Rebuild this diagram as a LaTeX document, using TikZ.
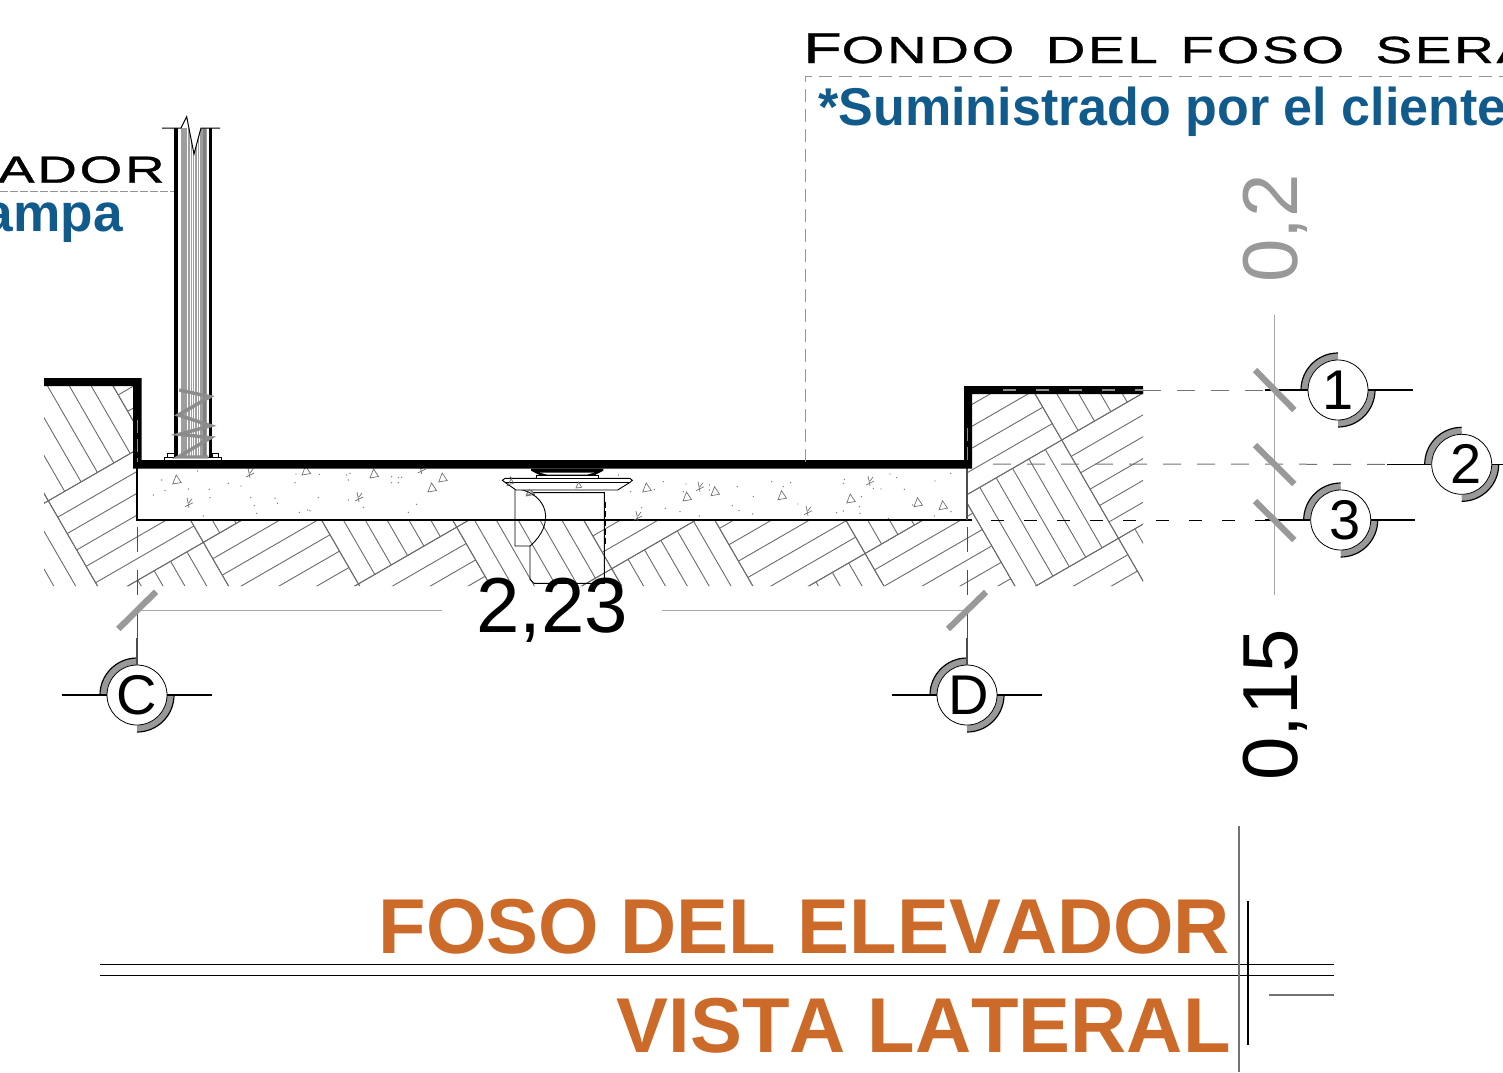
\documentclass[tikz,border=0pt]{standalone}
\usepackage{fontspec}
\setmainfont[Kerning=Off]{Liberation Sans}
\newfontfamily\techfont[LetterSpace=5,WordSpace=1.75,FakeBold=0.8]{Liberation Sans}
\definecolor{noteblue}{HTML}{115A8C}
\definecolor{titleorange}{HTML}{CC6A2A}
\definecolor{tickgray}{HTML}{999999}
\tikzset{
  hatchline/.style={draw=black!58,line width=.45pt},
  thinblack/.style={draw=black,line width=.65pt},
  hidden/.style={draw=black!42,line width=.5pt,dash pattern=on 6.5pt off 3.5pt},
  dashgray/.style={draw=black!55,line width=.5pt,dash pattern=on 9pt off 8pt},
  dashblack/.style={draw=black,line width=.5pt,dash pattern=on 6.5pt off 10pt},
  dimline/.style={draw=black!35,line width=.6pt},
  slash/.style={draw=tickgray,line width=3.1pt},
  bubble/.style={circle,draw=black,line width=.4pt,fill=white,minimum size=30pt,inner sep=0pt,font=\fontsize{28}{28}\selectfont},
  speck/.style={draw=black!55,line width=.35pt},
  drainline/.style={draw=black,line width=.45pt},
  dimtext/.style={font=\fontsize{39}{39}\selectfont,inner sep=0pt},
  titletext/.style={text=titleorange,font=\fontsize{38.9}{39}\selectfont\bfseries,inner sep=0pt},
  notetext/.style={text=noteblue,font=\fontsize{26.6}{27}\selectfont\bfseries,inner sep=0pt},
  techtext/.style={font=\fontsize{18.9}{19}\techfont,inner sep=0pt},
}
\newcommand{\bubbleat}[4]{%
  \draw[draw=tickgray,line width=3.2pt] (#2-33.5,#3) arc[start angle=180,end angle=270,radius=33.5];
  \draw[draw=tickgray,line width=3.2pt] (#2+33.5,#3) arc[start angle=0,end angle=90,radius=33.5];
  \draw[draw=black,line width=.6pt] (#2-37,#3) arc[start angle=180,end angle=270,radius=37];
  \draw[draw=black,line width=.6pt] (#2+37,#3) arc[start angle=0,end angle=90,radius=37];
  \node[bubble] (#1) at (#2,#3) {#4};
}
\begin{document}
\begin{tikzpicture}[x=0.5pt,y=-0.5pt]
\useasboundingbox (0,0) rectangle (1503,1072);
% ---- parquet hatch
\begin{scope}
\clip (44,385) -- (137,385) -- (137,520) -- (967,520) -- (967,390) -- (1143,390) -- (1143,586) -- (44,586) -- cycle;
\foreach \ii in {-9,...,0}{
 \foreach \jj in {-5,...,1}{
  \pgfmathsetmacro\cx{1061.7+\ii*98.3+\jj*56.75}
  \pgfmathsetmacro\cy{440-\ii*56.75+\jj*98.3}
  \pgfmathtruncatemacro\parity{mod(abs(\ii+\jj),2)}
  \draw[hatchline] (\cx,\cy) -- ++(98.3,-56.75) -- ++(56.75,98.3) -- ++(-98.3,56.75) -- cycle;
  \foreach \k in {1,...,5}{
   \ifnum\parity=0
    \draw[hatchline] ({\cx+\k*56.75/6},{\cy+\k*98.3/6}) -- ++(98.3,-56.75);
   \else
    \draw[hatchline] ({\cx+\k*98.3/6},{\cy-\k*56.75/6}) -- ++(56.75,98.3);
   \fi
  }
 }
}
\end{scope}
% ---- slab outline
\draw[thinblack] (137,468) -- (137,520) -- (972,520);
\draw[thinblack,draw=black!70] (967,468) -- (967,520);
% ---- aggregate
\foreach \a/\b in {176.7/480,306/471,374/474,432/488,442.7/478,511/481.7,578/485,646.7/488,530/492,687/497,715/491.7,782/495.7,850.7/499,918/502.7,943/505.7}{
  \draw[speck] (\a-4,\b+4) -- (\a+4.5,\b+2.5) -- (\a-0.5,\b-5) -- cycle;
}
\foreach \a/\b in {250/473,189/502.7,359/497,421.7/469,700/486.7,638/516,808/510.7,870/481}{
  \draw[speck] (\a-2,\b-5) -- (\a,\b+5) (\a-4,\b+4) -- (\a+4,\b) (\a,\b) -- (\a+3,\b-4);
}
\foreach \a/\b in {365/60,340/105,375/92,445/87,473/33,508/88,510/113,565/70,603/78,632/113,643/137,650/160,705/115,712/130,778/157,803/150,810/152,835/113,765/68,768/42,838/43,920/45,930/40,925/60,925/120,970/142,490/168,1055/50,1075/53,1085/52,1055/68,1075/68,1105/157,1130/133}{
  \fill[black!55] ({40+\a/3},{460+\b/3}) circle[radius=.7];
}
\foreach \a/\b in {55/60,190/80,163/103,92/110,258/87,250/110,328/90,328/105,412/95,515/80,572/83,550/95,460/125,397/152,417/167,458/177,240/170,298/183,196/160,125/158,594/147,710/173,730/168,784/125,778/155,780/175,733/73,730/85,870/57,890/68,1005/78,1052/55,820/100,843/102,913/103,938/150,1003/183,1053/170,865/190}{
  \fill[black!55] ({600+\a/3},{455+\b/3}) circle[radius=.7];
}
% ---- drain
\begin{scope}[shift={(440,450)},xscale=1/3,yscale=1/3]
\draw[drainline] (225,120) -- (225,288) -- (270,288) -- (270,388) -- (282,400) -- (493,400) -- (493,128) -- (280,128);
\draw[drainline] (225,115) .. controls (330,130) and (345,225) .. (270,288);
\draw[drainline,line width=.9pt,dash pattern=on 3pt off 1.5pt] (496,155) -- (496,282);
\draw[drainline,fill=white] (195,85) -- (570,85) -- (577,91) -- (570,97) -- (533,120) -- (228,120) -- (195,97) -- (187,91) -- cycle;
\draw[drainline] (195,97) -- (570,97);
\draw[drainline,fill=white] (288,85) -- (288,77) -- (475,77) -- (475,85);
\fill[black] (273,56) -- (490,56) -- (490,62) -- (465,75) -- (298,75) -- (273,62) -- cycle;
\fill[white] (300,68) -- (462,68) -- (440,74) -- (322,74) -- cycle;
\draw[speck] (204,104) -- (220,100) -- (214,86) -- cycle;
\draw[speck] (408,114) -- (425,112) -- (416,96) -- cycle;
\draw[speck] (262,136) -- (278,130) -- (268,118) -- cycle;
\end{scope}
% ---- pit walls (thick section lines)
\fill[black] (44,378) -- (141.5,378) -- (141.5,460) -- (964,460) -- (964,386) -- (1143,386) -- (1143,394) -- (972,394) -- (972,468.5) -- (133,468.5) -- (133,386) -- (44,386) -- cycle;
\coordinate (wallR) at (1143,390);
\coordinate (dashA) at (993,464);
\coordinate (dashB) at (991,520);
\coordinate (topdash) at (1003,390);
\draw[draw=black!45,line width=.6pt,dash pattern=on 6.5pt off 10pt] (topdash) -- (wallR);
\draw[draw=black!45,line width=.5pt,dash pattern=on 6.5pt off 3pt] (137,420) -- (137,462);
\draw[draw=black!45,line width=.5pt,dash pattern=on 6.5pt off 3pt] (967,428) -- (967,462);
% ---- guide rail
\fill[black!38] (181,128) rectangle (207,457);
\foreach \xx in {187.2,190,192.5,194.7,197,199.5}{
  \draw[draw=white,line width=.3pt] (\xx,128) -- (\xx,457);
}
\fill[black!50] (203,128) rectangle (206,457);
\fill[black] (174,128) rectangle (177.6,457);
\fill[black] (209,128) rectangle (212,457);
\fill[white] (178,110) -- (206,110) -- (206,128) -- (201,128) -- (194,154) -- (186.7,116.7) -- (181,128) -- (178,128) -- cycle;
\draw[draw=black,line width=.5pt] (162,128) -- (181,128) -- (186.7,116.7) -- (194,154) -- (201,128) -- (220,128);
\draw[draw=black,line width=.4pt,fill=white] (164.7,457) rectangle (221.7,460.5);
\draw[draw=black,line width=.4pt,fill=white] (167.7,453) rectangle (174,457);
\draw[draw=black,line width=.4pt,fill=white] (212.3,453) rectangle (218.3,457);
\draw[draw=black!45,line width=1.7pt] (179.3,390) -- (210,396.7) -- (178.3,415) -- (210.7,425.7) -- (179.3,434.3) -- (210.7,437.7) -- (178.3,457) -- (208.3,457);
% ---- note leaders
\coordinate (noteA) at (805,462);
\coordinate (noteB) at (805,76);
\coordinate (noteC) at (1503,76);
\coordinate (noteD) at (0,191.7);
\coordinate (noteE) at (174,191.7);
\draw[hidden] (noteA) -- (noteB) -- (noteC);
\draw[hidden,dash pattern=on 4pt off 1pt] (noteD) -- (noteE);
% ---- level bubbles
\bubbleat{lvlA}{1338}{390}{1}
\bubbleat{lvlB}{1461.7}{464.3}{\hspace{4pt}2}
\bubbleat{lvlC}{1340.7}{520}{\hspace{4pt}3}
\bubbleat{axC}{137}{695}{C}
\bubbleat{axD}{967}{695}{\hspace{2pt}D}
\coordinate (lvlAl) at (1265,390);
\coordinate (lvlAr) at (1413,390);
\coordinate (lvlBl) at (1387,464.3);
\coordinate (lvlBr) at (1503,464.3);
\coordinate (lvlCl) at (1265,520);
\coordinate (lvlCr) at (1415,520);
\coordinate (axCl) at (62,695);
\coordinate (axCr) at (212,695);
\coordinate (axDl) at (892,695);
\coordinate (axDr) at (1042,695);
\coordinate (axCt) at (137,638);
\coordinate (axDt) at (967,638);
\coordinate (axCs) at (137,527);
\coordinate (axDs) at (967,527);
\draw[thinblack] (lvlAl) -- (lvlA.west) (lvlA.east) -- (lvlAr);
\draw[thinblack] (lvlBl) -- (lvlB.west) (lvlB.east) -- (lvlBr);
\draw[thinblack] (lvlCl) -- (lvlC.west) (lvlC.east) -- (lvlCr);
\draw[thinblack] (axCl) -- (axC.west) (axC.east) -- (axCr);
\draw[thinblack] (axDl) -- (axD.west) (axD.east) -- (axDr);
\draw[thinblack,draw=black!70] (axCt) -- (axC.north);
\draw[thinblack,draw=black!70] (axDt) -- (axD.north);
\draw[draw=black!70,line width=.5pt,dash pattern=on 12.5pt off 9pt] (axCs) -- (axCt);
\draw[draw=black!70,line width=.5pt,dash pattern=on 12.5pt off 9pt] (axDs) -- (axDt);
\draw[dashgray] (wallR) -- (lvlAl);
\draw[dashgray] (dashA) -- (lvlBl);
\draw[dashblack] (dashB) -- (lvlCl);
% ---- dimensions
\coordinate (dimVt) at (1274.7,315);
\coordinate (dimVb) at (1274.7,595);
\draw[dimline] (dimVt) -- (dimVb);
\coordinate (dimHa) at (137,610.7);
\coordinate (dimHb) at (442,610.7);
\coordinate (dimHc) at (662,610.7);
\coordinate (dimHd) at (967,610.7);
\draw[dimline] (dimHa) -- (dimHb) (dimHc) -- (dimHd);
\draw[slash] (1255,370) -- (1294.3,410);
\draw[slash] (1255,445) -- (1294.3,484);
\draw[slash] (1255,501) -- (1294.3,540);
\draw[slash] (118.3,629) -- (156,591.7);
\draw[slash] (948,629) -- (986,592);
\node[dimtext,anchor=base] (dimW) at (552,632) {2,23};
\node[dimtext,anchor=base,rotate=90,text=tickgray] (dimA) at (1297,228.5) {0,2};
\node[dimtext,anchor=base,rotate=90] (dimB) at (1297,705) {0,15};
% ---- notes
\node[techtext,anchor=base west] (noteT) at (803,63) {\scalebox{1.45}[1]{{\fontsize{21.6}{22}\techfont F}ONDO DEL\kern-3pt{} FOSO SERA}};
\node[techtext,anchor=base east] (noteL) at (165,182.7) {\scalebox{1.45}[1]{ADOR}};
\node[notetext,anchor=base west] (noteS) at (818,125) {\scalebox{.978}[1]{*Suministrado por el cliente}};
\node[notetext,anchor=base east] (noteM) at (123,231) {ampa};
% ---- title block
\node[titletext,anchor=base east] (titleA) at (1230.5,953) {FOSO DEL ELEVADOR};
\node[titletext,anchor=base east] (titleB) at (1231,1052) {VISTA LATERAL};
\coordinate (ruleAl) at (100,964.3);
\coordinate (ruleAr) at (1334,964.3);
\coordinate (ruleBl) at (100,975.3);
\coordinate (ruleBr) at (1334,975.3);
\coordinate (ruleCl) at (1269,995);
\coordinate (ruleCr) at (1334,995);
\draw[thinblack] (ruleAl) -- (ruleAr);
\draw[thinblack,line width=.75pt] (ruleBl) -- (ruleBr);
\draw[draw=black!55,line width=.6pt] (ruleCl) -- (ruleCr);
\coordinate (vertAt) at (1239,826);
\coordinate (vertAb) at (1239,1072);
\coordinate (vertBt) at (1248.3,901);
\coordinate (vertBb) at (1248.3,1045);
\draw[draw=black!55,line width=.7pt] (vertAt) -- (vertAb);
\draw[draw=black,line width=.9pt] (vertBt) -- (vertBb);
\end{tikzpicture}
\end{document}
